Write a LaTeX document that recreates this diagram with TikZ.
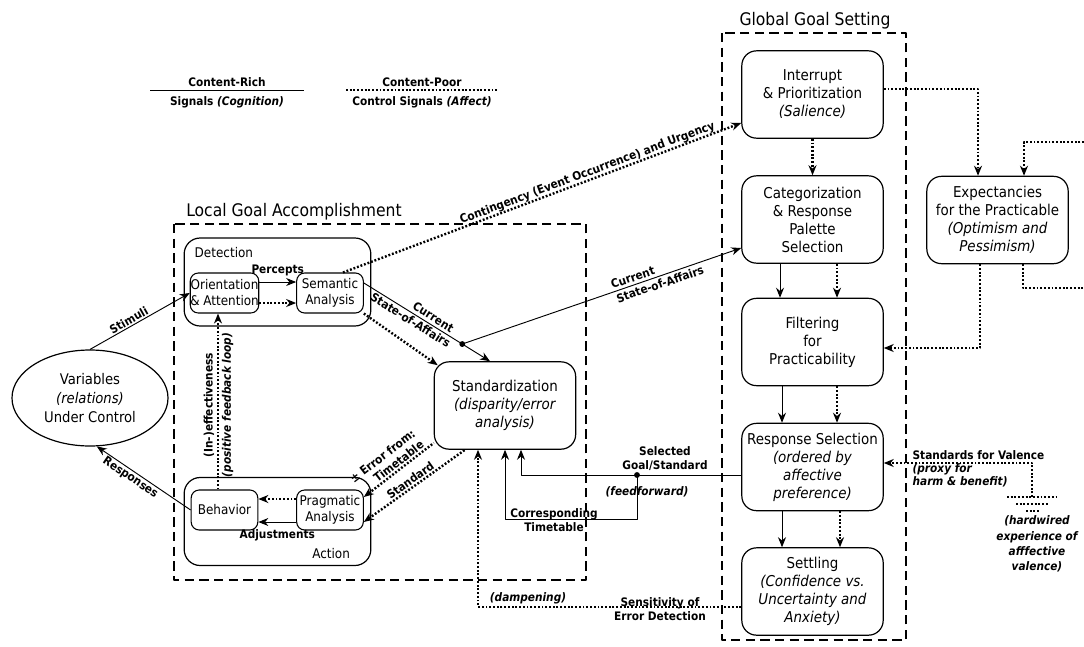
\documentclass[tikz,border=0pt]{standalone}
\usepackage{fontspec}
\setmainfont{DejaVu Sans Condensed}
\usetikzlibrary{arrows.meta,positioning,calc,shapes.geometric}
\tikzset{
  every picture/.style={
    line join=round,
    >={Stealth[length=7.5pt,width=6pt]},
  },
  process/.style={draw, rounded corners=11pt, line width=0.9pt, align=center,
    minimum width=106pt, minimum height=65.5pt, inner sep=1pt,
    font=\fontsize{11.2}{13.5}\selectfont},
  subprocess/.style={draw, rounded corners=6pt, line width=0.8pt, align=center,
    minimum width=50pt, minimum height=30pt, inner sep=0pt,
    font=\fontsize{10}{12}\selectfont},
  stage/.style={draw, rounded corners=12pt, line width=0.9pt,
    minimum width=140pt, minimum height=66pt},
  region/.style={draw, line width=1.3pt, dash pattern=on 7pt off 4pt},
  rich/.style={line width=0.7pt},
  poor/.style={line width=1.8pt, dash pattern=on 1.4pt off 1.4pt},
  tag/.style={font=\bfseries\fontsize{8.8}{10.5}\selectfont, inner sep=1pt, align=center},
  itag/.style={tag, font=\bfseries\itshape\fontsize{8.8}{10.5}\selectfont},
  heading/.style={font=\fontsize{13}{15}\selectfont, inner sep=0pt},
}

\begin{document}
\begin{tikzpicture}[x=0.75pt,y=-0.75pt]
\useasboundingbox (0,0) rectangle (1084,646);

% legend
\node[tag] (richtop) at (227,82) {Content-Rich};
\node[tag] (richbot) at (227,102) {Signals \textit{(Cognition)}};
\coordinate (richL) at (150,90);
\coordinate (richR) at (304,90);
\draw[rich] (richL) -- (richR);
\node[tag] (poortop) at (422,82) {Content-Poor};
\node[tag] (poorbot) at (422,102) {Control Signals \textit{(Affect)}};
\coordinate (poorL) at (346,90);
\coordinate (poorR) at (499,90);
\draw[poor] (poorL) -- (poorR);

% the two regions
\draw[region] (722,33) rectangle (906,640);
\node[heading] (globaltitle) at (815,21) {Global Goal Setting};
\draw[region] (174,224) rectangle (586,580);
\node[heading, anchor=west] (localtitle) at (186,212) {Local Goal Accomplishment};

% global goal setting
\node[process] (interrupt) at (812.5,94.5) {Interrupt\\\& Prioritization\\\textit{(Salience)}};
\node[process] (categ) at (812.5,219.5) {Categorization\\\& Response\\Palette\\Selection};
\node[process] (filter) at (812.5,342) {Filtering\\for\\Practicability};
\node[process] (respsel) at (812.5,467) {Response Selection\\\textit{(ordered by}\\\textit{affective}\\\textit{preference)}};
\node[process] (settle) at (812.5,591.5) {Settling\\\textit{(Confidence vs.}\\\textit{Uncertainty and}\\\textit{Anxiety)}};
\node[process] (expect) at (997.5,220) {Expectancies\\for the Practicable\\\textit{(Optimism and}\\\textit{Pessimism)}};
\node[process] (stdz) at (505,405.5) {Standardization\\\textit{(disparity/error}\\\textit{analysis)}};

% local goal accomplishment
\node[stage] (detect) at (277.5,282) {};
\node[subprocess, draw=none, anchor=west] (detectlab) at (190,253) {Detection};
\node[stage] (action) at (277.5,521.5) {};
\node[subprocess, draw=none, anchor=east] (actionlab) at (365,554) {Action};
\node[subprocess] (orient) at (224.5,293) {Orientation\\\& Attention};
\node[subprocess] (semantic) at (330,293) {Semantic\\Analysis};
\node[subprocess] (behavior) at (224.5,510) {Behavior};
\node[subprocess] (pragmatic) at (330,510) {Pragmatic\\Analysis};

\node[ellipse, draw, line width=0.9pt, minimum width=117pt, minimum height=72pt,
  align=center, font=\fontsize{11}{14}\selectfont] (variables) at (90,398)
  {Variables\\\textit{(relations)}\\Under Control};

% environment loop
\draw[rich,->] (variables.north) -- node[tag, sloped, above, pos=0.42]{Stimuli} (orient.west);
\draw[rich,<-] (variables.278) -- node[tag, sloped, below, pos=0.4]{Responses} (behavior.west);

% detection
\draw[rich,->] (orient.east |- 0,282) -- node[tag, above=3pt]{Percepts} (semantic.west |- 0,282);
\draw[poor,->] (orient.east |- 0,303) -- (semantic.west |- 0,303);
\coordinate (semout) at (semantic.east |- 0,283);
\coordinate (stdin) at (stdz.north -| 490,0);
\coordinate (split) at ($(semout)!0.78!(stdin)$);
\draw[rich,->] (semout) -- node[tag, sloped, above=1pt, pos=0.52]{Current}
  node[tag, sloped, below=0.5pt, pos=0.4]{State-of-Affairs} (stdin);
\draw[rich,->] (split) -- node[tag, sloped, above=1pt, pos=0.62]{Current}
  node[tag, sloped, below=1pt, pos=0.7]{State-of-Affairs} (categ.west |- 0,248);
\fill (split) circle (2.2pt);
\draw[poor,->] (semantic.south east) -- ($(stdz.north west)+(4,4)$);
\draw[poor,->] (semantic.north -| 343,0) -- node[tag, sloped, above=-1pt, pos=0.62]
  {Contingency (Event Occurrence) and Urgency} (interrupt.west |- 0,123);

% action
\draw[poor,->] (behavior.north -| 218,0) -- node[tag, sloped, above=1pt, pos=0.48]{(In-)effectiveness}
  node[itag, sloped, below=1pt, pos=0.48]{(positive feedback loop)} (orient.south -| 218,0);
\draw[poor,->] (pragmatic.west |- 0,499) -- (behavior.east |- 0,499);
\draw[rich,->] (pragmatic.west |- 0,522) -- node[tag, below=4pt]{Adjustments} (behavior.east |- 0,522);
\draw[poor,<-] (pragmatic.east |- 0,497) -- node[tag, sloped, above, pos=0.45, align=right]
  {± Error from:\\Timetable} (stdz.west |- 0,443);
\draw[poor,<-] (pragmatic.east |- 0,522) -- node[tag, sloped, above, pos=0.5]{Standard} (stdz.south -| 465,0);

% feedforward from response selection
\coordinate (fork) at (637,475);
\draw[rich,->] (respsel.west |- 0,475) -| (stdz.south -| 521,0);
\draw[rich,->] (fork) -- (fork |- 0,519) -| (stdz.south);
\fill (fork) circle (2.2pt);
\node[tag] (sellab) at (665,459) {Selected\\Goal/Standard};
\node[itag] (fflab) at (647,492) {(feedforward)};
\node[tag] (ttlab) at (554,520) {Corresponding\\Timetable};

% dampening
\draw[poor,->] (settle.west |- 0,607) -| (stdz.south -| 478,0);
\node[itag] (damplab) at (528,598) {(dampening)};
\node[tag] (senslab) at (660,609) {Sensitivity of\\Error Detection};

% global chain
\draw[poor,->] (interrupt.south) -- (categ.north);
\draw[rich,->] (categ.south -| 780,0) -- (filter.north -| 780,0);
\draw[poor,->] (categ.south -| 837,0) -- (filter.north -| 837,0);
\draw[rich,->] (filter.south -| 782,0) -- (respsel.north -| 782,0);
\draw[poor,->] (filter.south -| 837,0) -- (respsel.north -| 837,0);
\draw[rich,->] (respsel.south -| 782,0) -- (settle.north -| 782,0);
\draw[poor,->] (respsel.south -| 840,0) -- (settle.north -| 840,0);

% expectancies
\coordinate (expin) at (1084,142);
\coordinate (expout) at (1084,288);
\draw[poor,->] (interrupt.east |- 0,89) -| (expect.north -| 978,0);
\draw[poor,->] (expin) -| (expect.north -| 1024,0);
\draw[poor,->] (expect.south -| 980,0) |- (filter.east |- 0,348);
\draw[poor] (expect.south -| 1023,0) |- (expout);

% valence
\coordinate (ground) at (1032,497);
\draw[poor,->] (ground) |- (respsel.east |- 0,463);
\draw[poor] (1007,497) -- (1057,497);
\draw[poor] (1016,504) -- (1049,504);
\draw[poor] (1026,511) -- (1039,511);
\node[tag, anchor=west] (vallab) at (911,455) {Standards for Valence};
\node[itag, anchor=north west, align=left, font=\bfseries\itshape\fontsize{8.8}{9.5}\selectfont]
  (proxylab) at (911,462) {(proxy for\\harm \& benefit)};
\node[itag, font=\bfseries\itshape\fontsize{8.8}{11.5}\selectfont] (hardlab) at (1037,544)
  {(hardwired\\experience of\\afffective\\valence)};
\end{tikzpicture}
\end{document}
